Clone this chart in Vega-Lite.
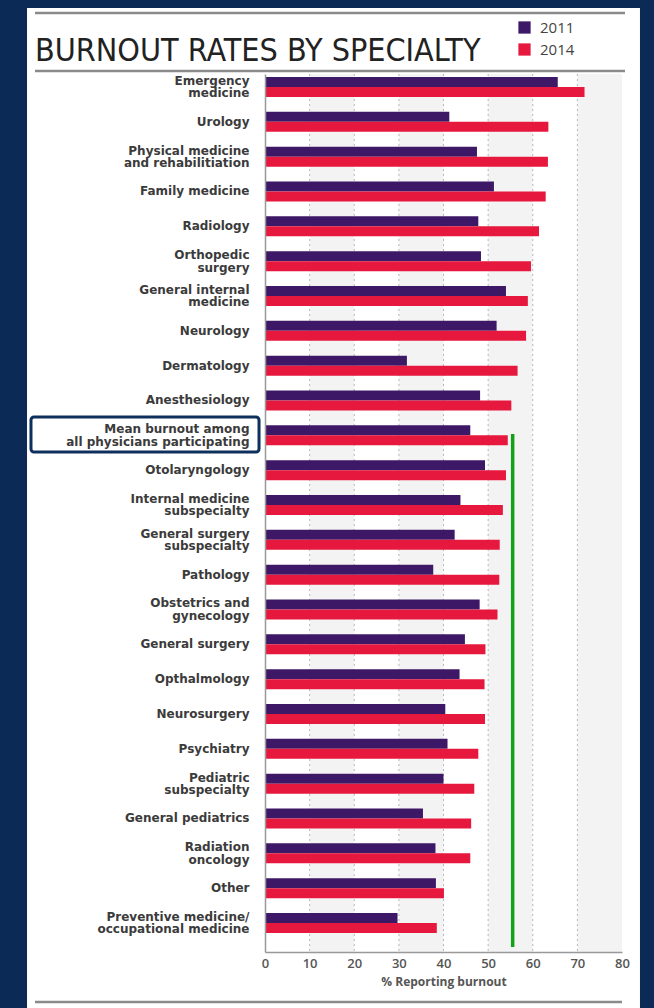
{
  "$schema": "https://vega.github.io/schema/vega-lite/v6.json",
  "width": 357,
  "height": 878,
  "autosize": {"type": "none"},
  "padding": {"left": 265, "top": 74, "right": 32, "bottom": 56},
  "background": "#0b2a56",
  "config": {"view": {"stroke": null}},
  "title": {
    "text": "BURNOUT RATES BY SPECIALTY",
    "anchor": "start",
    "frame": "group",
    "dx": -230,
    "dy": 72,
    "offset": 12,
    "font": "Liberation Sans Narrow, DejaVu Sans Condensed, sans-serif",
    "fontSize": 32,
    "fontWeight": "normal",
    "color": "#222222"
  },
  "datasets": {
    "bars": [
      {"specialty": "Emergency|medicine", "order": 1, "year": "2011", "pct": 65.6},
      {"specialty": "Emergency|medicine", "order": 1, "year": "2014", "pct": 71.6},
      {"specialty": "Urology", "order": 2, "year": "2011", "pct": 41.3},
      {"specialty": "Urology", "order": 2, "year": "2014", "pct": 63.5},
      {"specialty": "Physical medicine|and rehabilitiation", "order": 3, "year": "2011", "pct": 47.5},
      {"specialty": "Physical medicine|and rehabilitiation", "order": 3, "year": "2014", "pct": 63.4},
      {"specialty": "Family medicine", "order": 4, "year": "2011", "pct": 51.3},
      {"specialty": "Family medicine", "order": 4, "year": "2014", "pct": 62.9},
      {"specialty": "Radiology", "order": 5, "year": "2011", "pct": 47.8},
      {"specialty": "Radiology", "order": 5, "year": "2014", "pct": 61.4},
      {"specialty": "Orthopedic|surgery", "order": 6, "year": "2011", "pct": 48.4},
      {"specialty": "Orthopedic|surgery", "order": 6, "year": "2014", "pct": 59.6},
      {"specialty": "General internal|medicine", "order": 7, "year": "2011", "pct": 54.0},
      {"specialty": "General internal|medicine", "order": 7, "year": "2014", "pct": 58.9},
      {"specialty": "Neurology", "order": 8, "year": "2011", "pct": 51.9},
      {"specialty": "Neurology", "order": 8, "year": "2014", "pct": 58.5},
      {"specialty": "Dermatology", "order": 9, "year": "2011", "pct": 31.8},
      {"specialty": "Dermatology", "order": 9, "year": "2014", "pct": 56.6},
      {"specialty": "Anesthesiology", "order": 10, "year": "2011", "pct": 48.2},
      {"specialty": "Anesthesiology", "order": 10, "year": "2014", "pct": 55.2},
      {"specialty": "Mean burnout among|all physicians participating", "order": 11, "year": "2011", "pct": 46.0},
      {"specialty": "Mean burnout among|all physicians participating", "order": 11, "year": "2014", "pct": 54.4},
      {"specialty": "Otolaryngology", "order": 12, "year": "2011", "pct": 49.3},
      {"specialty": "Otolaryngology", "order": 12, "year": "2014", "pct": 54.0},
      {"specialty": "Internal medicine|subspecialty", "order": 13, "year": "2011", "pct": 43.8},
      {"specialty": "Internal medicine|subspecialty", "order": 13, "year": "2014", "pct": 53.3},
      {"specialty": "General surgery|subspecialty", "order": 14, "year": "2011", "pct": 42.5},
      {"specialty": "General surgery|subspecialty", "order": 14, "year": "2014", "pct": 52.6},
      {"specialty": "Pathology", "order": 15, "year": "2011", "pct": 37.7},
      {"specialty": "Pathology", "order": 15, "year": "2014", "pct": 52.5},
      {"specialty": "Obstetrics and|gynecology", "order": 16, "year": "2011", "pct": 48.1},
      {"specialty": "Obstetrics and|gynecology", "order": 16, "year": "2014", "pct": 52.1},
      {"specialty": "General surgery", "order": 17, "year": "2011", "pct": 44.8},
      {"specialty": "General surgery", "order": 17, "year": "2014", "pct": 49.4},
      {"specialty": "Opthalmology", "order": 18, "year": "2011", "pct": 43.6},
      {"specialty": "Opthalmology", "order": 18, "year": "2014", "pct": 49.2},
      {"specialty": "Neurosurgery", "order": 19, "year": "2011", "pct": 40.4},
      {"specialty": "Neurosurgery", "order": 19, "year": "2014", "pct": 49.3},
      {"specialty": "Psychiatry", "order": 20, "year": "2011", "pct": 40.9},
      {"specialty": "Psychiatry", "order": 20, "year": "2014", "pct": 47.8},
      {"specialty": "Pediatric|subspecialty", "order": 21, "year": "2011", "pct": 40.0},
      {"specialty": "Pediatric|subspecialty", "order": 21, "year": "2014", "pct": 46.9},
      {"specialty": "General pediatrics", "order": 22, "year": "2011", "pct": 35.4},
      {"specialty": "General pediatrics", "order": 22, "year": "2014", "pct": 46.2},
      {"specialty": "Radiation|oncology", "order": 23, "year": "2011", "pct": 38.2},
      {"specialty": "Radiation|oncology", "order": 23, "year": "2014", "pct": 46.0},
      {"specialty": "Other", "order": 24, "year": "2011", "pct": 38.3},
      {"specialty": "Other", "order": 24, "year": "2014", "pct": 40.1},
      {"specialty": "Preventive medicine/|occupational medicine", "order": 25, "year": "2011", "pct": 29.7},
      {"specialty": "Preventive medicine/|occupational medicine", "order": 25, "year": "2014", "pct": 38.5}
    ],
    "stripes": [
      {"x": 10, "x2": 20}, {"x": 30, "x2": 40}, {"x": 50, "x2": 60}, {"x": 70, "x2": 80}
    ],
    "grid": [
      {"x": 10}, {"x": 20}, {"x": 30}, {"x": 40}, {"x": 50}, {"x": 60}, {"x": 70}
    ],
    "panel": [
      {"x": -53.33, "x2": 84.03, "y": -0.07, "y2": 1.0752}
    ],
    "rules": [
      {"x": -51.54, "x2": 80.67, "y": 1.0695},
      {"x": -51.54, "x2": 80.67, "y": 1.0034},
      {"x": -51.54, "x2": 80.0, "y": -0.0569}
    ],
    "box": [
      {"x": -52.44, "x2": -1.34, "y": 0.5695, "y2": 0.6093}
    ],
    "meanline": [
      {"x": 55.5, "y": 0.0057, "y2": 0.590}
    ]
  },
  "layer": [
    {
      "data": {"name": "panel"},
      "mark": {"type": "rect", "color": "#ffffff", "clip": false},
      "encoding": {
        "x": {"field": "x", "type": "quantitative", "scale": {"domain": [0, 80], "nice": false, "zero": false}},
        "x2": {"field": "x2"},
        "y": {"field": "y", "type": "quantitative", "scale": {"domain": [0, 1], "nice": false, "zero": false}, "axis": null},
        "y2": {"field": "y2"}
      }
    },
    {
      "data": {"name": "stripes"},
      "mark": {"type": "rect", "color": "#f3f3f3"},
      "encoding": {
        "x": {"field": "x", "type": "quantitative", "scale": {"domain": [0, 80], "nice": false, "zero": false}},
        "x2": {"field": "x2"}
      }
    },
    {
      "data": {"name": "grid"},
      "mark": {"type": "rule", "color": "#b8b8b8", "strokeDash": [2, 3], "strokeWidth": 1},
      "encoding": {
        "x": {"field": "x", "type": "quantitative", "scale": {"domain": [0, 80], "nice": false, "zero": false}}
      }
    },
    {
      "data": {"name": "bars"},
      "mark": {"type": "bar"},
      "encoding": {
        "y": {
          "field": "specialty",
          "type": "nominal",
          "sort": {"field": "order", "op": "min"},
          "scale": {"paddingInner": 0.426, "paddingOuter": 0.316, "align": 0.136},
          "axis": {
            "title": null,
            "ticks": false,
            "grid": false,
            "domainColor": "#999999",
            "domainWidth": 1.5,
            "labelFont": "DejaVu Sans",
            "labelFontSize": 12,
            "labelFontWeight": "bold",
            "labelColor": "#3b3b3b",
            "labelPadding": 16,
            "labelLimit": 0,
            "labelLineHeight": 12.5,
            "labelOffset": {"condition": {"test": "indexof(datum.value, '|') >= 0", "value": -6}, "value": 0},
            "labelExpr": "split(datum.label, '|')",
            "zindex": 1
          }
        },
        "yOffset": {"field": "year", "type": "nominal", "scale": {"paddingInner": 0, "paddingOuter": 0}},
        "x": {
          "field": "pct",
          "type": "quantitative",
          "scale": {"domain": [0, 80], "nice": false, "zero": false},
          "axis": {
            "values": [0, 10, 20, 30, 40, 50, 60, 70, 80],
            "ticks": false,
            "grid": false,
            "domainColor": "#999999",
            "domainWidth": 1.5,
            "labelFont": "Open Sans",
            "labelFontSize": 13,
            "labelFontWeight": 600,
            "labelColor": "#555555",
            "labelPadding": 5,
            "labelFlush": false,
            "title": "% Reporting burnout",
            "titleFont": "Open Sans",
            "titleFontSize": 12,
            "titleFontWeight": "bold",
            "titleColor": "#555555",
            "titlePadding": 6,
            "zindex": 1
          }
        },
        "color": {
          "field": "year",
          "type": "nominal",
          "scale": {"domain": ["2011", "2014"], "range": ["#3d1866", "#e6183e"]},
          "legend": {
            "title": null,
            "orient": "none",
            "legendX": 252,
            "legendY": -54,
            "symbolType": "square",
            "symbolSize": 150,
            "symbolStrokeWidth": 0,
            "symbolOpacity": 1,
            "labelFont": "Open Sans",
            "labelFontSize": 15,
            "labelColor": "#444444",
            "labelOffset": 8,
            "rowPadding": 6
          }
        }
      }
    },
    {
      "data": {"name": "meanline"},
      "mark": {"type": "rule", "color": "#11a11a", "strokeWidth": 3.5, "clip": false},
      "encoding": {
        "x": {"field": "x", "type": "quantitative", "scale": {"domain": [0, 80], "nice": false, "zero": false}},
        "y": {"field": "y", "type": "quantitative", "scale": {"domain": [0, 1], "nice": false, "zero": false}, "axis": null},
        "y2": {"field": "y2"}
      }
    },
    {
      "data": {"name": "box"},
      "mark": {"type": "rect", "fill": null, "fillOpacity": 0, "stroke": "#0d2f5c", "strokeWidth": 3, "cornerRadius": 3, "clip": false},
      "encoding": {
        "x": {"field": "x", "type": "quantitative", "scale": {"domain": [0, 80], "nice": false, "zero": false}},
        "x2": {"field": "x2"},
        "y": {"field": "y", "type": "quantitative", "scale": {"domain": [0, 1], "nice": false, "zero": false}, "axis": null},
        "y2": {"field": "y2"}
      }
    },
    {
      "data": {"name": "rules"},
      "mark": {"type": "rule", "color": "#8a8a8a", "strokeWidth": 2.5, "clip": false},
      "encoding": {
        "x": {"field": "x", "type": "quantitative", "scale": {"domain": [0, 80], "nice": false, "zero": false}},
        "x2": {"field": "x2"},
        "y": {"field": "y", "type": "quantitative", "scale": {"domain": [0, 1], "nice": false, "zero": false}, "axis": null}
      }
    }
  ],
  "resolve": {"scale": {"y": "independent"}}
}
